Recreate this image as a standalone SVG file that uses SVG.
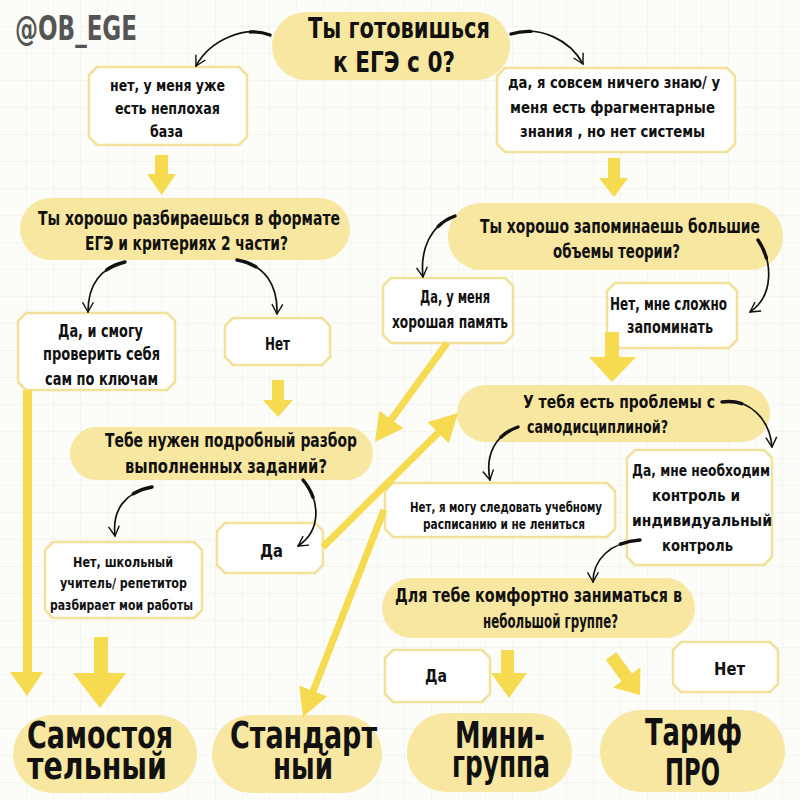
<svg xmlns="http://www.w3.org/2000/svg" width="800" height="800" viewBox="0 0 800 800">
<defs>
<pattern id="grid" width="27" height="27" patternUnits="userSpaceOnUse">
<path d="M27,0 V27 M0,27 H27" fill="none" stroke="#eeeee8" stroke-width="1"/>
</pattern>
<marker id="bh" viewBox="0 0 12 12" refX="10" refY="6" markerWidth="13" markerHeight="13" markerUnits="userSpaceOnUse" orient="auto">
<path d="M1,1 L10,6 L1,11" fill="none" stroke="#111" stroke-width="1.3" stroke-linejoin="round"/>
</marker>
<marker id="yh" viewBox="0 0 30 30" refX="14" refY="15" markerWidth="30" markerHeight="30" markerUnits="userSpaceOnUse" orient="auto">
<path d="M0,0 L28,15 L0,30 Z" fill="#f6da50"/>
</marker>
<path id="c1" d="M270,35 C245,25 210,40 196,66"/>
<path id="c2" d="M511,34 C540,25 570,40 583,64"/>
<path id="c3" d="M125,262 C100,268 88,285 88,312"/>
<path id="c4" d="M237,260 C265,265 278,285 277,314"/>
<path id="c5" d="M455,216 C430,225 420,250 423,277"/>
<path id="c6" d="M758,240 C772,260 775,295 750,312"/>
<path id="c7" d="M152,487 C125,492 112,510 115,536"/>
<path id="c8" d="M303,480 C320,500 322,530 298,546"/>
<path id="c9" d="M518,427 C495,435 485,455 490,480"/>
<path id="c10" d="M722,402 C750,398 770,420 772,447"/>
<path id="c11" d="M640,540 C610,542 593,560 593,582"/>
<style>
text{font-family:"DejaVu Sans Condensed","DejaVu Sans",sans-serif;font-stretch:condensed;font-weight:bold;fill:#111}
.pill{fill:#f8e7a1}
.box{fill:#ffffff;stroke:#f1e19a;stroke-width:2.5;stroke-linejoin:round}
.curve{fill:none;stroke:#111;stroke-width:1.7;stroke-linecap:round;marker-end:url(#bh)}
.thick{fill:none;stroke:#111;stroke-width:3.4;stroke-linecap:round;stroke-dasharray:20 1000}
.yl{fill:none;stroke:#f6da50;stroke-width:7;marker-end:url(#yh)}
.ya{fill:#f6da50}
.t28{font-size:28px}.t20{font-size:20px}.t18{font-size:18px}.t17{font-size:17px}.t16{font-size:16px}.t14{font-size:14px}.t13{font-size:13.5px}.t38{font-size:37px}
</style>
</defs>
<rect width="800" height="800" fill="#fcfcf8"/>
<rect width="800" height="800" fill="url(#grid)"/>
<text x="15" y="40" font-size="34" textLength="122" lengthAdjust="spacingAndGlyphs" style="fill:#555">@OB_EGE</text>

<g id="q-start">
<rect class="pill" x="272" y="12" width="238" height="68" rx="34"/>
<text class="t28" x="308" y="38" textLength="182" lengthAdjust="spacingAndGlyphs">Ты готовишься</text>
<text class="t28" x="333" y="72" textLength="122" lengthAdjust="spacingAndGlyphs">к ЕГЭ с 0?</text>
</g>
<g id="a-base">
<polygon class="box" points="97,67 239,67 247,75 247,137 239,145 97,145 89,137 89,75"/>
<text class="t16" x="110" y="91" textLength="115" lengthAdjust="spacingAndGlyphs">нет, у меня уже</text>
<text class="t16" x="115" y="114" textLength="105" lengthAdjust="spacingAndGlyphs">есть неплохая</text>
<text class="t16" x="150" y="137" textLength="33" lengthAdjust="spacingAndGlyphs">база</text>
</g>
<g id="a-zero">
<polygon class="box" points="505,68 727,68 735,76 735,144 727,152 505,152 497,144 497,76"/>
<text class="t16" x="508" y="88" textLength="212" lengthAdjust="spacingAndGlyphs">да, я совсем ничего знаю/ у</text>
<text class="t16" x="510" y="113" textLength="205" lengthAdjust="spacingAndGlyphs">меня есть  фрагментарные</text>
<text class="t16" x="520" y="137" textLength="185" lengthAdjust="spacingAndGlyphs">знания , но нет системы</text>
</g>
<g id="q-format">
<rect class="pill" x="20" y="198" width="330" height="62" rx="31"/>
<text class="t20" x="38" y="225" textLength="302" lengthAdjust="spacingAndGlyphs">Ты хорошо разбираешься в формате</text>
<text class="t20" x="85" y="250" textLength="203" lengthAdjust="spacingAndGlyphs">ЕГЭ и критериях 2 части?</text>
</g>
<g id="q-memory">
<rect class="pill" x="448" y="203" width="335" height="67" rx="33"/>
<text class="t20" x="480" y="233" textLength="280" lengthAdjust="spacingAndGlyphs">Ты хорошо запоминаешь большие</text>
<text class="t20" x="553" y="258" textLength="127" lengthAdjust="spacingAndGlyphs">объемы теории?</text>
</g>
<g id="a-selfcheck">
<polygon class="box" points="26,313 167,313 175,321 175,382 167,390 26,390 18,382 18,321"/>
<text class="t17" x="58" y="337" textLength="85" lengthAdjust="spacingAndGlyphs">Да, и смогу</text>
<text class="t17" x="43" y="360" textLength="117" lengthAdjust="spacingAndGlyphs">проверить себя</text>
<text class="t17" x="45" y="385" textLength="113" lengthAdjust="spacingAndGlyphs">сам по ключам</text>
</g>
<g id="a-format-no">
<polygon class="box" points="233,318 322,318 330,326 330,357 322,365 233,365 225,357 225,326"/>
<text class="t17" x="265" y="350" textLength="25" lengthAdjust="spacingAndGlyphs">Нет</text>
</g>
<g id="a-memory-yes">
<polygon class="box" points="391,278 505,278 513,286 513,335 505,343 391,343 383,335 383,286"/>
<text class="t17" x="420" y="303" textLength="70" lengthAdjust="spacingAndGlyphs">Да, у меня</text>
<text class="t17" x="392" y="328" textLength="116" lengthAdjust="spacingAndGlyphs">хорошая память</text>
</g>
<g id="a-memory-no">
<polygon class="box" points="615,283 729,283 737,291 737,340 729,348 615,348 607,340 607,291"/>
<text class="t17" x="610" y="310" textLength="117" lengthAdjust="spacingAndGlyphs">Нет, мне сложно</text>
<text class="t17" x="627" y="333" textLength="86" lengthAdjust="spacingAndGlyphs">запоминать</text>
</g>
<g id="q-review">
<rect class="pill" x="70" y="427" width="303" height="53" rx="26.5"/>
<text class="t20" x="105" y="447" textLength="252" lengthAdjust="spacingAndGlyphs">Тебе нужен подробный разбор</text>
<text class="t20" x="125" y="473" textLength="202" lengthAdjust="spacingAndGlyphs">выполненных заданий?</text>
</g>
<g id="q-discipline">
<rect class="pill" x="457" y="385" width="313" height="57" rx="28.5"/>
<text class="t18" x="523" y="408" textLength="192" lengthAdjust="spacingAndGlyphs">У тебя есть проблемы с</text>
<text class="t18" x="527" y="433" textLength="141" lengthAdjust="spacingAndGlyphs">самодисциплиной?</text>
</g>
<g id="a-review-no">
<polygon class="box" points="53,542 194,542 202,550 202,610 194,618 53,618 45,610 45,550"/>
<text class="t14" x="73" y="567" textLength="100" lengthAdjust="spacingAndGlyphs">Нет, школьный</text>
<text class="t14" x="60" y="588" textLength="127" lengthAdjust="spacingAndGlyphs">учитель/ репетитор</text>
<text class="t14" x="50" y="610" textLength="143" lengthAdjust="spacingAndGlyphs">разбирает мои работы</text>
</g>
<g id="a-review-yes">
<polygon class="box" points="225,523 315,523 323,531 323,565 315,573 225,573 217,565 217,531"/>
<text class="t18" x="260" y="557" textLength="23" lengthAdjust="spacingAndGlyphs">Да</text>
</g>
<g id="a-discipline-no">
<polygon class="box" points="393,483 607,483 615,491 615,529 607,537 393,537 385,529 385,491"/>
<text class="t13" x="410" y="512" textLength="192" lengthAdjust="spacingAndGlyphs">Нет, я могу следовать учебному</text>
<text class="t13" x="423" y="528.5" textLength="162" lengthAdjust="spacingAndGlyphs">расписанию и не лениться</text>
</g>
<g id="a-discipline-yes">
<polygon class="box" points="635,450 764,450 772,458 772,557 764,565 635,565 627,557 627,458"/>
<text class="t16" x="632" y="476" textLength="138" lengthAdjust="spacingAndGlyphs">Да, мне необходим</text>
<text class="t16" x="652" y="501" textLength="88" lengthAdjust="spacingAndGlyphs">контроль и</text>
<text class="t16" x="632" y="526" textLength="140" lengthAdjust="spacingAndGlyphs">индивидуальный</text>
<text class="t16" x="662" y="551" textLength="71" lengthAdjust="spacingAndGlyphs">контроль</text>
</g>
<g id="q-group">
<rect class="pill" x="382" y="578" width="313" height="60" rx="30"/>
<text class="t20" x="395" y="602" textLength="287" lengthAdjust="spacingAndGlyphs">Для тебе комфортно заниматься в</text>
<text class="t20" x="483" y="628" textLength="135" lengthAdjust="spacingAndGlyphs">небольшой группе?</text>
</g>
<g id="a-group-yes">
<polygon class="box" points="393,650 482,650 490,658 490,694 482,702 393,702 385,694 385,658"/>
<text class="t18" x="425" y="682" textLength="22" lengthAdjust="spacingAndGlyphs">Да</text>
</g>
<g id="a-group-no">
<polygon class="box" points="681,642 770,642 778,650 778,684 770,692 681,692 673,684 673,650"/>
<text class="t18" x="714" y="675" textLength="31" lengthAdjust="spacingAndGlyphs">Нет</text>
</g>
<g id="r-self">
<rect class="pill" x="13" y="715" width="184" height="78" rx="39"/>
<text class="t38" x="27" y="748" textLength="146" lengthAdjust="spacingAndGlyphs">Самостоя</text>
<text class="t38" x="27" y="779" textLength="140" lengthAdjust="spacingAndGlyphs">тельный</text>
</g>
<g id="r-standard">
<rect class="pill" x="212" y="715" width="170" height="78" rx="39"/>
<text class="t38" x="230" y="748" textLength="147" lengthAdjust="spacingAndGlyphs">Стандарт</text>
<text class="t38" x="273" y="779" textLength="60" lengthAdjust="spacingAndGlyphs">ный</text>
</g>
<g id="r-mini">
<rect class="pill" x="407" y="713" width="165" height="79" rx="39"/>
<text class="t38" x="455" y="748" textLength="90" lengthAdjust="spacingAndGlyphs">Мини-</text>
<text class="t38" x="452" y="777" textLength="98" lengthAdjust="spacingAndGlyphs">группа</text>
</g>
<g id="r-pro">
<rect class="pill" x="600" y="710" width="185" height="82" rx="41"/>
<text class="t38" x="645" y="745" textLength="97" lengthAdjust="spacingAndGlyphs">Тариф</text>
<text class="t38" x="665" y="785" textLength="55" lengthAdjust="spacingAndGlyphs">ПРО</text>
</g>

<g id="connectors">
<use href="#c1" class="curve"/><use href="#c1" class="thick"/>
<use href="#c2" class="curve"/><use href="#c2" class="thick"/>
<use href="#c3" class="curve"/><use href="#c3" class="thick"/>
<use href="#c4" class="curve"/><use href="#c4" class="thick"/>
<use href="#c5" class="curve"/><use href="#c5" class="thick"/>
<use href="#c6" class="curve"/><use href="#c6" class="thick"/>
<use href="#c7" class="curve"/><use href="#c7" class="thick"/>
<use href="#c8" class="curve"/><use href="#c8" class="thick"/>
<use href="#c9" class="curve"/><use href="#c9" class="thick"/>
<use href="#c10" class="curve"/><use href="#c10" class="thick"/>
<use href="#c11" class="curve"/><use href="#c11" class="thick"/>

<polygon class="ya" points="155,155 168,155 168,174 176,174 161.5,195 147,174 155,174"/>
<polygon class="ya" points="608,158 620,158 620,178 628,178 614,197 599,178 608,178"/>
<polygon class="ya" points="272,380 284,380 284,400 293,400 278,417 263,400 272,400"/>
<polygon class="ya" points="605,332 619,332 619,357 636,357 612,382 589,357 605,357"/>
<polygon class="ya" points="23,390 32,390 32,672 43,672 27,696 10,672 23,672"/>
<polygon class="ya" points="94,637 108,637 108,673 126,673 100,708 73,673 94,673"/>
<polygon class="ya" points="501,650 514,650 514,673 527,673 509,698 491,673 501,673"/>
<polygon class="ya" points="605.8,659.9 621.6,681.3 613.2,687.6 640,695 640.4,667.2 632,673.5 616.2,652.1"/>

<line class="yl" x1="447" y1="343" x2="383.2" y2="430.7"/>
<line class="yl" x1="323" y1="547" x2="448.1" y2="422.9"/>
<line class="yl" x1="384" y1="510" x2="308.1" y2="704"/>
</g>
</svg>
